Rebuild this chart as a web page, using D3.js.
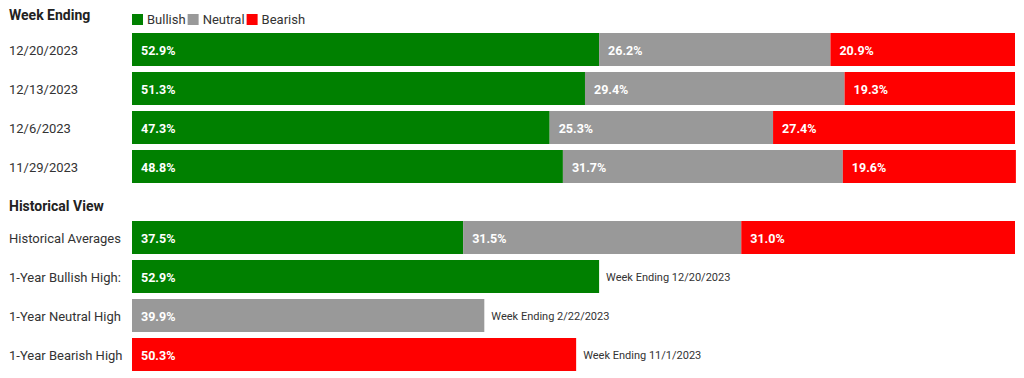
<!DOCTYPE html>
<html>
<head>
<meta charset="utf-8">
<script src="https://cdn.jsdelivr.net/npm/d3@7"></script>
<style>
  body { margin: 0; background: #fff; font-family: Roboto, "Noto Sans", sans-serif; }
  .cat { fill: #333; font-size: 13px; }
  .head { fill: #222; font-size: 14px; font-weight: bold; }
  .val { fill: #fff; font-size: 12.5px; font-weight: bold; }
  .note { fill: #333; font-size: 11px; }
</style>
</head>
<body>
<svg id="chart" width="1024" height="378"></svg>
<script>
const weeks = ["12/20/2023", "12/13/2023", "12/6/2023", "11/29/2023"];
const bullish = [52.9, 51.3, 47.3, 48.8];
const neutral = [26.2, 29.4, 25.3, 31.7];
const bearish = [20.9, 19.3, 27.4, 19.6];

const sentiments = ["Bullish", "Neutral", "Bearish"];
const colors = ["#008000", "#999999", "#ff0000"];

const histAvg = [37.5, 31.5, 31.0];
const highLabels = ["1-Year Bullish High:", "1-Year Neutral High", "1-Year Bearish High"];
const highValues = [52.9, 39.9, 50.3];
const highWeeks = ["Week Ending 12/20/2023", "Week Ending 2/22/2023", "Week Ending 11/1/2023"];

const svg = d3.select("#chart");
const fmt = d3.format(".1f");

const x = d3.scaleLinear().domain([0, 100]).range([132, 1015]);
const color = d3.scaleOrdinal().domain(sentiments).range(colors);

const yTop = d3.scaleBand().domain(weeks).range([33, 183]).paddingInner(6 / 39);
const histRows = ["Historical Averages"].concat(highLabels);
const yHist = d3.scaleBand().domain(histRows).range([221, 371]).paddingInner(6 / 39);

// headers
svg.append("text").attr("class", "head").attr("x", 9).attr("y", 20).text("Week Ending");
svg.append("text").attr("class", "head").attr("x", 9).attr("y", 211).text("Historical View");

// legend
let lx = 132;
sentiments.forEach(s => {
  svg.append("rect").attr("x", lx).attr("y", 14).attr("width", 11).attr("height", 11).attr("fill", color(s));
  const t = svg.append("text").attr("class", "cat").attr("x", lx + 15).attr("y", 24).text(s);
  lx += 15 + t.node().getComputedTextLength() + 2;
});

// stacked rows
function stackedRow(y, label, vals) {
  svg.append("text").attr("class", "cat").attr("x", 9).attr("y", y + 21.5).text(label);
  let acc = 0;
  vals.forEach((v, i) => {
    svg.append("rect")
      .attr("x", x(acc)).attr("y", y)
      .attr("width", x(acc + v) - x(acc)).attr("height", 33)
      .attr("fill", colors[i]);
    svg.append("text").attr("class", "val")
      .attr("x", x(acc) + 9).attr("y", y + 21.5)
      .text(fmt(v) + "%");
    acc += v;
  });
}

weeks.forEach((w, i) => {
  stackedRow(yTop(w), w, [bullish[i], neutral[i], bearish[i]]);
});

stackedRow(yHist("Historical Averages"), "Historical Averages", histAvg);

highLabels.forEach((lab, i) => {
  const y = yHist(lab);
  svg.append("text").attr("class", "cat").attr("x", 9).attr("y", y + 21.5).text(lab);
  svg.append("rect")
    .attr("x", x(0)).attr("y", y)
    .attr("width", x(highValues[i]) - x(0)).attr("height", yHist.bandwidth())
    .attr("fill", colors[i]);
  svg.append("text").attr("class", "val")
    .attr("x", x(0) + 9).attr("y", y + 21.5)
    .text(fmt(highValues[i]) + "%");
  svg.append("text").attr("class", "note")
    .attr("x", x(highValues[i]) + 7).attr("y", y + 20.5)
    .text(highWeeks[i]);
});
</script>
</body>
</html>
